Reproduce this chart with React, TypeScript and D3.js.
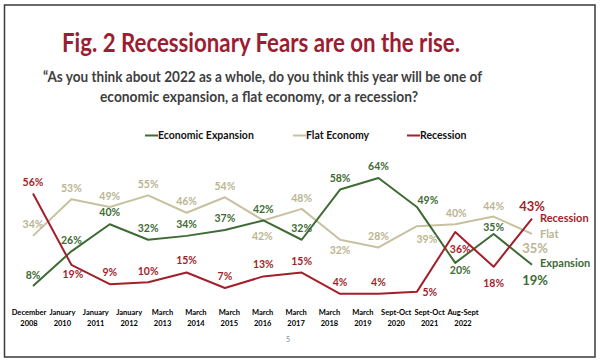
import React from "react";
import * as d3 from "d3";

const categories = [
  ["December", "2008"], ["January", "2010"], ["January", "2011"], ["January", "2012"],
  ["March", "2013"], ["March", "2014"], ["March", "2015"], ["March", "2016"],
  ["March", "2017"], ["March", "2018"], ["March", "2019"], ["Sept-Oct", "2020"],
  ["Sept-Oct", "2021"], ["Aug-Sept", "2022"],
];
const expansion = [8, 26, 40, 32, 34, 37, 42, 32, 58, 64, 49, 20, 35, 19];
const flat = [34, 53, 49, 55, 46, 54, 42, 48, 32, 28, 39, 40, 44, 35];
const recession = [56, 19, 9, 10, 15, 7, 13, 15, 4, 4, 5, 36, 18, 43];

// label offsets (dx, dy) relative to each point
const expansionOffsets = [[0,-11],[0,-11],[0,-11.5],[0,-11.5],[0,-12],[0,-11.5],[0,-11],[0,-11.5],[0,-11.5],[0,-11.5],[11,-7],[5,7],[0,-6.5],[3,15.5]];
const flatOffsets = [[0,-12],[0,-11],[0,-11],[0,-11],[0,-11],[0,-10.5],[-1,16],[0,-11],[0,11],[0,-11],[10,13],[1,-11],[0,-10.5],[3,14.5]];
const recessionOffsets = [[0,-10.7],[1.5,9],[0,-12],[0,-11],[0,-12],[0,-12],[0,-12],[0,-11.5],[0,-11.5],[0,-11.5],[13,0],[5,17],[0,17],[0,-12.5]];

const GREEN = "#3e6b34";
const FLAT = "#c6c29f";
const FLAT_TEXT = "#bab592";
const RED = "#a31f2b";
const FONT = "Lato, 'Open Sans', sans-serif";

export default function App() {
  const idx = d3.range(categories.length);
  const x = d3.scalePoint<number>().domain(idx).range([33, 532]);
  const xLab = d3.scalePoint<number>().domain(idx).range([29, 463]);
  const y = d3.scaleLinear().domain([0, 64]).range([301.5, 301.5 - 64 * 1.93]);
  const line = d3.line<number>().x((_, i) => x(i) as number).y((d) => y(d));

  const series = [
    { name: "Flat", vals: flat, color: FLAT, text: FLAT_TEXT, off: flatOffsets },
    { name: "Expansion", vals: expansion, color: GREEN, text: GREEN, off: expansionOffsets },
    { name: "Recession", vals: recession, color: RED, text: RED, off: recessionOffsets },
  ];
  const last = categories.length - 1;

  const legend = [
    { label: "Economic Expansion", color: GREEN, x: 145 },
    { label: "Flat Economy", color: FLAT, x: 293 },
    { label: "Recession", color: RED, x: 407 },
  ];
  const endLabels = [
    { label: "Recession", color: RED, y: 218 },
    { label: "Flat", color: FLAT_TEXT, y: 234.5 },
    { label: "Expansion", color: GREEN, y: 263.5 },
  ];

  return (
    <svg width={600} height={364} style={{ position: "absolute", left: 0, top: 0, display: "block", background: "#fff" }} fontFamily={FONT}>
      <rect x={4.5} y={5} width={590.5} height={352} fill="#fff" stroke="#3a3a3a" strokeWidth={1.5} />
      <text x={62} y={52} fontSize={26} fontWeight="bold" fill="#9c1d32" textLength={398} lengthAdjust="spacingAndGlyphs">
        Fig. 2 Recessionary Fears are on the rise.
      </text>
      <text x={43} y={81.5} fontSize={14.5} fontWeight="bold" fill="#3f3f3f" textLength={439} lengthAdjust="spacingAndGlyphs">
        “As you think about 2022 as a whole, do you think this year will be one of
      </text>
      <text x={100} y={101.5} fontSize={14.5} fontWeight="bold" fill="#3f3f3f" textLength={318} lengthAdjust="spacingAndGlyphs">
        economic expansion, a flat economy, or a recession?
      </text>

      {legend.map((l) => (
        <g key={l.label}>
          <line x1={l.x} x2={l.x + 13} y1={135.5} y2={135.5} stroke={l.color} strokeWidth={2} />
          <text x={l.x + 13} y={135.5} dy="0.35em" fontSize={10.5} fontWeight="bold" fill="#111">{l.label}</text>
        </g>
      ))}

      {series.map((s) => (
        <path key={s.name} d={line(s.vals) || ""} fill="none" stroke={s.color} strokeWidth={2} strokeLinejoin="round" />
      ))}

      {series.map((s) =>
        s.vals.map((v, i) => (
          <text
            key={s.name + i}
            x={(x(i) as number) + s.off[i][0]}
            y={y(v) + s.off[i][1]}
            dy="0.35em"
            textAnchor="middle"
            fontSize={i === last ? 13 : 10.5}
            fontWeight="bold"
            fill={s.text}
          >
            {v}%
          </text>
        ))
      )}

      {endLabels.map((l) => (
        <text key={l.label} x={540} y={l.y} dy="0.35em" fontSize={11} fontWeight="bold" fill={l.color}>{l.label}</text>
      ))}

      {categories.map((c, i) => (
        <text key={i} x={xLab(i) as number} textAnchor="middle" fontSize={7.5} fontWeight="bold" fill="#000">
          <tspan x={xLab(i) as number} y={315}>{c[0]}</tspan>
          <tspan x={xLab(i) as number} y={326}>{c[1]}</tspan>
        </text>
      ))}

      <text x={288} y={342} textAnchor="middle" fontSize={7} fill="#888">5</text>
    </svg>
  );
}
